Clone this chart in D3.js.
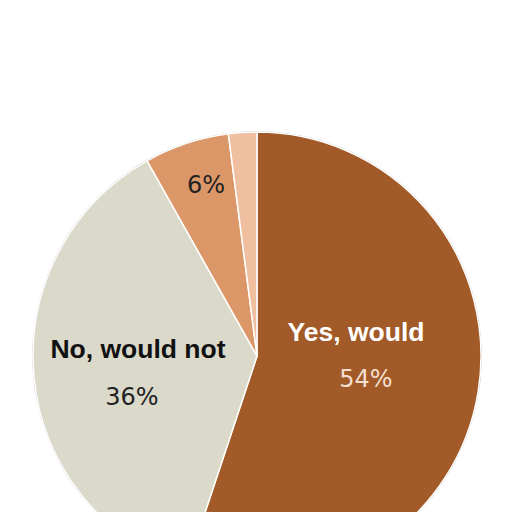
<!DOCTYPE html>
<html><head><meta charset="utf-8">
<script src="https://cdn.jsdelivr.net/npm/d3@7"></script>
<style>html,body{margin:0;padding:0;background:#fff;}</style>
</head><body>
<svg id="c" width="512" height="512"></svg>
<script>
const categories = ["Yes, would", "No, would not", "Other", "Don't know"];
const values = [54, 36, 6, 2];
const labels = ["54%", "36%", "6%", ""];
const colors = ["#a15a28", "#dbd9ca", "#dc9769", "#efbf9f"];

const svg = d3.select("#c");
const cx = 257, cy = 356, r = 224;
const g = svg.append("g").attr("transform", `translate(${cx},${cy})`);
const pie = d3.pie().sort(null).value(d => d)(values);
const arc = d3.arc().innerRadius(0).outerRadius(r);
g.append("circle").attr("r", r + 0.8).attr("fill", "#b8b8b8");
g.selectAll("path").data(pie).join("path")
  .attr("d", arc).attr("fill", (d, i) => colors[i])
  .attr("stroke", "#fff").attr("stroke-width", 1.5).attr("stroke-linejoin", "round");

const bold = "Liberation Sans, Arial, sans-serif";
const num = "DejaVu Sans, Verdana, sans-serif";
const t = g.append("g");
t.append("text").attr("x", 99).attr("y", -15).attr("text-anchor", "middle")
  .attr("font-family", bold).attr("font-weight", "bold")
  .attr("font-size", 26.5).attr("fill", "#fff").text(categories[0]);
t.append("text").attr("x", 109).attr("y", 31).attr("text-anchor", "middle")
  .attr("font-family", num)
  .attr("font-size", 24).attr("fill", "#f4dfcf").text(labels[0]);
t.append("text").attr("x", -119).attr("y", 2).attr("text-anchor", "middle")
  .attr("font-family", bold).attr("font-weight", "bold")
  .attr("font-size", 26.5).attr("fill", "#111").text(categories[1]);
t.append("text").attr("x", -125).attr("y", 49).attr("text-anchor", "middle")
  .attr("font-family", num)
  .attr("font-size", 24).attr("fill", "#222").text(labels[1]);
t.append("text").attr("x", -51).attr("y", -163).attr("text-anchor", "middle")
  .attr("font-family", num)
  .attr("font-size", 24).attr("fill", "#222").text(labels[2]);
</script>
</body></html>
